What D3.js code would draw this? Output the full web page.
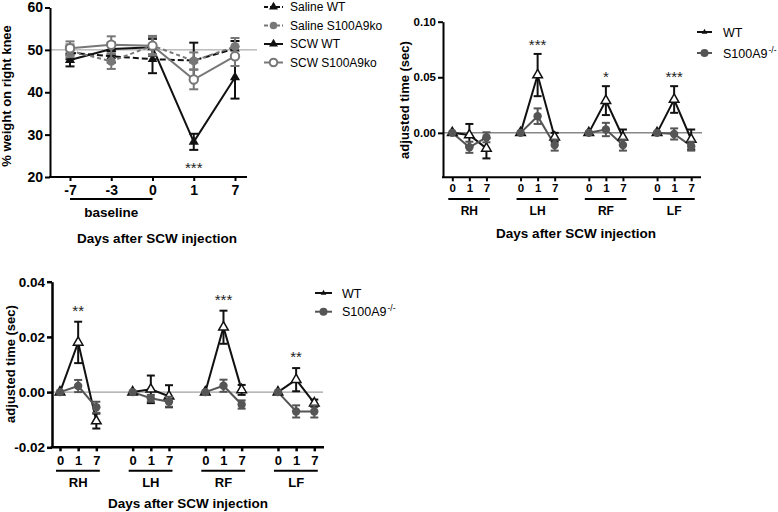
<!DOCTYPE html>
<html><head><meta charset="utf-8">
<script src="https://cdn.jsdelivr.net/npm/d3@7"></script>
<style>body{margin:0;background:#fff} svg{display:block} text{font-family:"Liberation Sans",Arial,sans-serif}</style>
</head><body><svg id="c" width="778" height="512"></svg>
<script>
// ---------- Panel A data ----------
const daysA = ["-7","-3","0","1","7"];
const salineWT = [49.3, 48.5, 47.8, 47.5, 50.3];
const salineWTErr = [1.5, 1.5, 3.3, 4.2, 1.8];
const salineKO = [49.8, 47.3, 51.0, 47.4, 50.8];
const salineKOErr = [1.5, 1.8, 2.0, 2.0, 2.0];
const scwWT = [47.6, 50.2, 50.6, 28.3, 43.5];
const scwWTErr = [1.5, 1.5, 2.0, 1.9, 5.0];
const scwKO = [50.4, 51.2, 51.0, 43.0, 48.5];
const scwKOErr = [1.6, 2.0, 2.3, 2.3, 2.3];
const sigA = ["", "", "", "***", ""];
const ticksA = [20, 30, 40, 50, 60];
const legendA = ["Saline WT", "Saline S100A9ko", "SCW WT", "SCW S100A9ko"];

// ---------- Panels B & C data ----------
const groups = ["RH", "LH", "RF", "LF"];
const daysBC = ["0", "1", "7"];
const bWT = [0, -0.002, -0.014, 0, 0.052, -0.004, 0, 0.029, -0.004, 0, 0.030, -0.006];
const bWTErr = [0, 0.010, 0.009, 0, 0.019, 0.004, 0, 0.013, 0.007, 0, 0.012, 0.009];
const bKO = [0, -0.013, -0.004, 0, 0.015, -0.011, 0, 0.003, -0.011, 0, -0.001, -0.012];
const bKOErr = [0, 0.005, 0.0045, 0, 0.007, 0.005, 0, 0.006, 0.005, 0, 0.005, 0.004];
const bSig = ["", "***", "*", "***"];
const ticksB = [0, 0.05, 0.10];
const cWT = [0, 0.018, -0.0105, 0, 0.001, -0.0015, 0, 0.0235, 0.0008, 0, 0.0045, -0.004];
const cWTErr = [0, 0.0075, 0.0027, 0, 0.005, 0.004, 0, 0.006, 0.0018, 0, 0.0042, 0.0013];
const cKO = [0, 0.0022, -0.0055, 0, -0.0022, -0.0035, 0, 0.0023, -0.0045, 0, -0.007, -0.007];
const cKOErr = [0, 0.0022, 0.002, 0, 0.0012, 0.0018, 0, 0.0022, 0.0015, 0, 0.0022, 0.0022];
const cSig = ["**", "", "***", "**"];
const ticksC = [-0.02, 0, 0.02, 0.04];
const legendBC = ["WT", "S100A9"];

const svg = d3.select("#c");
const BLACK = "#111", GRAYA = "#777", GRAYB = "#555";
const FF = '"Liberation Sans", Arial, sans-serif';
const fmt = d => d3.format(".2f")(d).replace("\u2212", "-");

function styleAxis(ax, fs, sw) {
  ax.attr("font-family", FF).attr("font-size", fs).attr("font-weight", "bold");
  ax.selectAll("text").attr("fill", "#000");
  ax.selectAll(".domain, .tick line").attr("stroke", "#000").attr("stroke-width", sw);
}
function marker(g, type, cx, cy, color, size, fill) {
  if (type === "tri") {
    g.append("path").attr("d", d3.symbol(d3.symbolTriangle, size)())
      .attr("transform", `translate(${cx},${cy})`)
      .attr("fill", fill || color).attr("stroke", color).attr("stroke-width", fill ? 1.5 : 0);
  } else {
    g.append("circle").attr("cx", cx).attr("cy", cy).attr("r", size)
      .attr("fill", fill || color).attr("stroke", color).attr("stroke-width", fill ? 2 : 0);
  }
}
function errBar(g, cx, y, v, e, color, cap, sw) {
  if (!e) return;
  g.append("line").attr("x1", cx).attr("x2", cx).attr("y1", y(v - e)).attr("y2", y(v + e))
    .attr("stroke", color).attr("stroke-width", sw);
  [v - e, v + e].forEach(t => g.append("line").attr("x1", cx - cap).attr("x2", cx + cap)
    .attr("y1", y(t)).attr("y2", y(t)).attr("stroke", color).attr("stroke-width", sw));
}

// ================= Panel A =================
(function () {
  const g = svg.append("g");
  const x = d3.scalePoint().domain(daysA).range([70, 235]);
  const y = d3.scaleLinear().domain([20, 60]).range([177, 7.5]);
  g.append("line").attr("x1", 50).attr("x2", 257).attr("y1", y(50)).attr("y2", y(50))
    .attr("stroke", "#999").attr("stroke-width", 1);
  const ya = g.append("g").attr("transform", "translate(50,0)")
    .call(d3.axisLeft(y).tickValues(ticksA).tickSize(5).tickSizeOuter(0).tickPadding(2));
  styleAxis(ya, 14, 2);
  const xa = g.append("g").attr("transform", "translate(0,177)")
    .call(d3.axisBottom(x).tickSize(4).tickPadding(4));
  xa.select(".domain").remove();
  styleAxis(xa, 14, 2);
  g.append("line").attr("x1", 49).attr("x2", 247).attr("y1", 177).attr("y2", 177).attr("stroke", "#000").attr("stroke-width", 2);
  g.append("line").attr("x1", x("-7")).attr("x2", x("0")).attr("y1", 199).attr("y2", 199).attr("stroke", "#000").attr("stroke-width", 2);
  g.append("text").attr("x", (x("-7") + x("0")) / 2).attr("y", 217).attr("text-anchor", "middle")
    .attr("font-size", 13.5).attr("font-weight", "bold").text("baseline");
  g.append("text").attr("x", 157).attr("y", 243).attr("text-anchor", "middle")
    .attr("font-size", 13.5).attr("font-weight", "bold").text("Days after SCW injection");
  g.append("text").attr("transform", "translate(11,96) rotate(-90)").attr("text-anchor", "middle")
    .attr("font-size", 13).attr("font-weight", "bold").text("% weight on right knee");

  const series = [
    { v: scwWT, e: scwWTErr, c: BLACK, dash: null, m: "tri", s: 45, fill: null },
    { v: salineWT, e: salineWTErr, c: BLACK, dash: "6,3", m: "tri", s: 40, fill: null },
    { v: salineKO, e: salineKOErr, c: GRAYA, dash: "4,3", m: "circ", s: 4.5, fill: null },
    { v: scwKO, e: scwKOErr, c: GRAYA, dash: null, m: "circ", s: 4.2, fill: "#fff" }
  ];
  series.forEach(sr => {
    const pts = daysA.map((d, i) => [x(d), y(sr.v[i])]);
    g.append("path").attr("d", d3.line()(pts)).attr("fill", "none").attr("stroke", sr.c)
      .attr("stroke-width", 2).attr("stroke-dasharray", sr.dash);
    daysA.forEach((d, i) => errBar(g, x(d), y, sr.v[i], sr.e[i], sr.c, 4.5, 2));
    daysA.forEach((d, i) => marker(g, sr.m, x(d), y(sr.v[i]), sr.c, sr.s, sr.fill));
  });
  daysA.forEach((d, i) => {
    if (sigA[i]) g.append("text").attr("x", x(d)).attr("y", y(scwWT[i] - scwWTErr[i]) + 23)
      .attr("text-anchor", "middle").attr("font-size", 15).attr("fill", "#222").text(sigA[i]);
  });
  // legend
  const lg = g.append("g");
  const rows = [7, 25.5, 44, 62.5];
  const legSeries = [series[1], series[2], series[0], series[3]];
  legSeries.forEach((sr, i) => {
    lg.append("line").attr("x1", 264).attr("x2", 283).attr("y1", rows[i]).attr("y2", rows[i])
      .attr("stroke", sr.c).attr("stroke-width", 2).attr("stroke-dasharray", sr.dash ? "4,2" : null);
    marker(lg, sr.m, 273.5, rows[i], sr.c, sr.m === "tri" ? 35 : 3.8, sr.fill);
    lg.append("text").attr("x", 290).attr("y", rows[i] + 4.3).attr("font-size", 12).attr("fill", "#000").text(legendA[i]);
  });
})();

// ================= Panels B & C =================
function panelBC(cfg) {
  const g = svg.append("g");
  const x = d3.scaleLinear().domain([0, 14]).range(cfg.xr);
  const y = d3.scaleLinear().domain(cfg.yd).range(cfg.yr);
  const pos = (gi, di) => gi * 4 + di;
  g.append("line").attr("x1", cfg.ax0).attr("x2", cfg.refEnd).attr("y1", y(0)).attr("y2", y(0))
    .attr("stroke", "#888").attr("stroke-width", cfg.refW);
  const ya = g.append("g").attr("transform", `translate(${cfg.ax0},0)`)
    .call(d3.axisLeft(y).tickValues(cfg.ticks).tickFormat(fmt).tickSize(5).tickSizeOuter(0).tickPadding(2));
  styleAxis(ya, cfg.yfs, cfg.aw);
  const tv = [];
  groups.forEach((gn, gi) => daysBC.forEach((d, di) => tv.push(pos(gi, di))));
  const xa = g.append("g").attr("transform", `translate(0,${cfg.yr[0]})`)
    .call(d3.axisBottom(x).tickValues(tv).tickFormat(i => daysBC[i % 4]).tickSize(4).tickPadding(cfg.tp));
  xa.select(".domain").remove();
  styleAxis(xa, cfg.xfs, cfg.aw);
  g.append("line").attr("x1", cfg.ax0 - cfg.aw / 2).attr("x2", cfg.axEnd).attr("y1", cfg.yr[0]).attr("y2", cfg.yr[0])
    .attr("stroke", "#000").attr("stroke-width", cfg.aw);
  groups.forEach((gn, gi) => {
    const a = x(pos(gi, 0)), b = x(pos(gi, 2));
    g.append("line").attr("x1", a - 4).attr("x2", b + 3.5).attr("y1", cfg.ulY).attr("y2", cfg.ulY)
      .attr("stroke", "#000").attr("stroke-width", 2);
    g.append("text").attr("x", (a + b) / 2).attr("y", cfg.glY).attr("text-anchor", "middle")
      .attr("font-size", cfg.gfs).attr("font-weight", "bold").text(gn);
  });
  g.append("text").attr("x", cfg.titleX).attr("y", cfg.titleY).attr("text-anchor", "middle")
    .attr("font-size", 13.5).attr("font-weight", "bold").text("Days after SCW injection");
  g.append("text").attr("transform", `translate(${cfg.ytX},${cfg.ytY}) rotate(-90)`).attr("text-anchor", "middle")
    .attr("font-size", 13).attr("font-weight", "bold").text("adjusted time (sec)");

  const series = [
    { v: cfg.wt, e: cfg.wtE, c: BLACK, m: "tri", s: 40, fill: "#fff" },
    { v: cfg.ko, e: cfg.koE, c: GRAYB, m: "circ", s: 4.2, fill: null }
  ];
  series.forEach(sr => {
    groups.forEach((gn, gi) => {
      const pts = daysBC.map((d, di) => [x(pos(gi, di)), y(sr.v[gi * 3 + di])]);
      g.append("path").attr("d", d3.line()(pts)).attr("fill", "none").attr("stroke", sr.c).attr("stroke-width", 2);
    });
  });
  series.forEach(sr => {
    groups.forEach((gn, gi) => daysBC.forEach((d, di) => {
      const k = gi * 3 + di;
      errBar(g, x(pos(gi, di)), y, sr.v[k], sr.e[k], sr.c, 4, 2);
    }));
    groups.forEach((gn, gi) => daysBC.forEach((d, di) => {
      const k = gi * 3 + di;
      marker(g, sr.m, x(pos(gi, di)), y(sr.v[k]), sr.c, sr.s, sr.fill);
    }));
  });
  groups.forEach((gn, gi) => {
    if (!cfg.sig[gi]) return;
    const k = gi * 3 + 1;
    g.append("text").attr("x", x(pos(gi, 1))).attr("y", y(cfg.wt[k] + cfg.wtE[k]) - cfg.sigOff)
      .attr("text-anchor", "middle").attr("font-size", 15).attr("fill", "#222").text(cfg.sig[gi]);
  });
  // legend
  const cols = [BLACK, GRAYB];
  legendBC.forEach((lab, i) => {
    const yy = cfg.legY[i];
    g.append("line").attr("x1", cfg.legX[0]).attr("x2", cfg.legX[1]).attr("y1", yy).attr("y2", yy)
      .attr("stroke", cols[i]).attr("stroke-width", 2);
    const mx = (cfg.legX[0] + cfg.legX[1]) / 2;
    if (i === 0) marker(g, "tri", mx, yy, BLACK, 14, null);
    else marker(g, "circ", mx, yy, GRAYB, 4, null);
    const t = g.append("text").attr("x", cfg.legX[2]).attr("y", yy + 4.5).attr("font-size", cfg.lfs).text(lab);
    if (i === 1) t.append("tspan").attr("dy", -5).attr("dx", 1).attr("font-size", 8.5).text("-/-");
  });
}

panelBC({
  xr: [452.3, 691.2], yd: [-0.04, 0.10], yr: [177.3, 21.7], ax0: 443, axEnd: 701, refEnd: 702, refW: 1.5,
  ticks: ticksB, yfs: 11.5, xfs: 11.5, gfs: 12, aw: 2, tp: 3, ulY: 199, glY: 214.5,
  titleX: 576, titleY: 237.5, ytX: 409, ytY: 100,
  wt: bWT, wtE: bWTErr, ko: bKO, koE: bKOErr, sig: bSig, sigOff: 4,
  legX: [697, 712, 723], legY: [32, 53], lfs: 12.5
});
panelBC({
  xr: [60, 314.3], yd: [-0.02, 0.04], yr: [447.3, 281.7], ax0: 52, axEnd: 324, refEnd: 323, refW: 1,
  ticks: ticksC, yfs: 13.5, xfs: 13, gfs: 13, aw: 2.5, tp: 4, ulY: 470.7, glY: 486.5,
  titleX: 188, titleY: 508, ytX: 15, ytY: 364,
  wt: cWT, wtE: cWTErr, ko: cKO, koE: cKOErr, sig: cSig, sigOff: 6,
  legX: [315, 332, 342], legY: [293, 311.7], lfs: 12.5
});
</script>
</body></html>
